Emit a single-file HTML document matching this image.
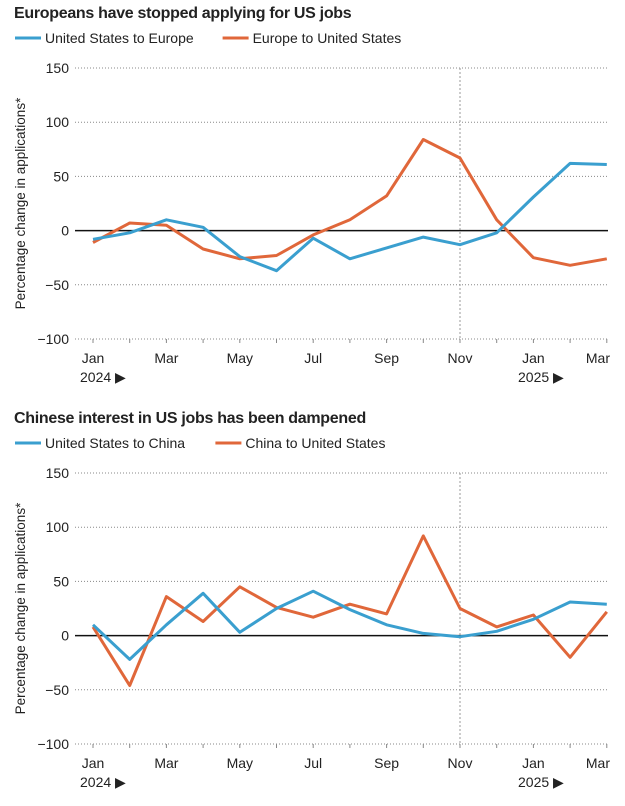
<!DOCTYPE html>
<html><head><style>
body{margin:0;background:#fff;}
svg text{font-family:"Liberation Sans",sans-serif;fill:#222;}
</style></head><body>
<svg width="625" height="801" viewBox="0 0 625 801">
<g id="c"></g>
</svg>
<script>
const B='#3a9fcf',O='#e0673a';
function X(i){return 93+i*36.7;}
function chart(top,title,l1,l2,blue,orange){
 let s='';
 s+=`<text x="14" y="${top+6}" font-size="16" font-weight="bold" style="letter-spacing:-0.3px">${title}</text>`;
 s+=`<line x1="15" x2="41" y1="${top+26}" y2="${top+26}" stroke="${B}" stroke-width="3"/><text x="45" y="${top+31}" font-size="14" fill="#333">${l1}</text>`;
 let w=l1.length*7.2+45+12;
 s+=`<line x1="${w}" x2="${w+26}" y1="${top+26}" y2="${top+26}" stroke="${O}" stroke-width="3"/><text x="${w+30}" y="${top+31}" font-size="14" fill="#333">${l2}</text>`;
 const y150=top+56, step=54.2;
 const Y=v=>y150+(150-v)/50*step;
 [150,100,50,0,-50,-100].forEach(v=>{
  const y=Y(v);
  s+=`<text x="69" y="${y+5}" font-size="14" text-anchor="end" fill="#333">${v<0?'−'+(-v):v}</text>`;
  if(v!==0) s+=`<line x1="75" x2="608" y1="${y}" y2="${y}" stroke="#888" stroke-width="1" stroke-dasharray="1,2"/>`;
 });
 s+=`<line x1="460" x2="460" y1="${Y(150)}" y2="${Y(-100)}" stroke="#999" stroke-width="1" stroke-dasharray="2,2"/>`;
 for(let i=0;i<15;i++) s+=`<line x1="${X(i)}" x2="${X(i)}" y1="${Y(-100)}" y2="${Y(-100)+4}" stroke="#888"/>`;
 s+=`<line x1="75" x2="608" y1="${Y(0)}" y2="${Y(0)}" stroke="#111" stroke-width="1.5"/>`;
 const lab=['Jan','Mar','May','Jul','Sep','Nov','Jan','Mar'];
 lab.forEach((t,k)=>{
  if(k===7) s+=`<text x="610" y="${Y(-100)+24}" font-size="14" text-anchor="end" fill="#333">${t}</text>`;
  else s+=`<text x="${X(k*2)}" y="${Y(-100)+24}" font-size="14" text-anchor="middle" fill="#333">${t}</text>`;
 });
 s+=`<text x="80" y="${Y(-100)+43}" font-size="14" fill="#333">2024 ▶</text>`;
 s+=`<text x="518" y="${Y(-100)+43}" font-size="14" fill="#333">2025 ▶</text>`;
 s+=`<text transform="translate(25,${(Y(150)+Y(-100))/2}) rotate(-90)" font-size="13.5" text-anchor="middle" fill="#333">Percentage change in applications*</text>`;
 const pl=(d,c)=>`<polyline fill="none" stroke="${c}" stroke-width="3" stroke-linejoin="round" points="${d.map((v,i)=>X(i).toFixed(1)+','+Y(v).toFixed(1)).join(' ')}"/>`;
 s+=pl(orange,O)+pl(blue,B);
 return s;
}
let h='';
h+=chart(12,'Europeans have stopped applying for US jobs','United States to Europe','Europe to United States',
 [-8,-2,10,3,-24,-37,-7,-26,-16,-6,-13,-2,31,62,61],
 [-11,7,5,-17,-26,-23,-4,10,32,84,67,10,-25,-32,-26]);
h+=chart(417,'Chinese interest in US jobs has been dampened','United States to China','China to United States',
 [10,-22,10,39,3,25,41,24,10,2,-1,4,15,31,29],
 [8,-46,36,13,45,26,17,29,20,92,25,8,19,-20,22]);
document.getElementById('c').innerHTML=h;
</script>
</body></html>
